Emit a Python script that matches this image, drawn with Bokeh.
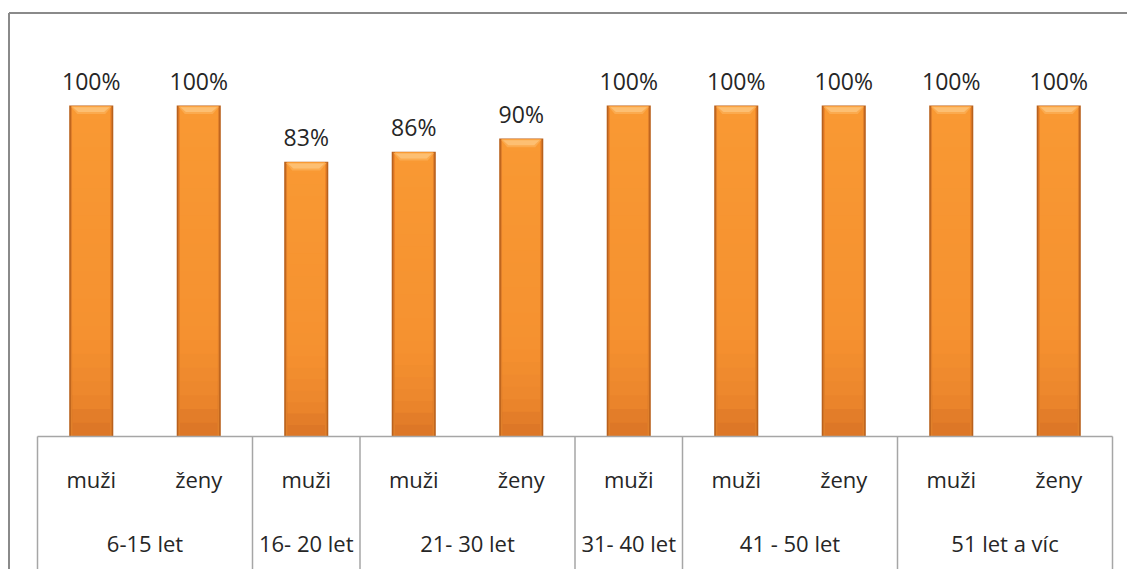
import numpy as np
from bokeh.plotting import figure
from bokeh.models import Range1d, ColumnDataSource
from bokeh.core.properties import value
from bokeh.embed import file_html
from bokeh.resources import INLINE

# ---- data ----
groups = ["6-15 let", "16- 20 let", "21- 30 let", "31- 40 let", "41 - 50 let", "51 let a víc"]
group_sizes = [2, 1, 2, 1, 2, 2]
sub_labels = ["muži", "ženy", "muži", "muži", "ženy", "muži", "muži", "ženy", "muži", "ženy"]
values = [100, 100, 83, 86, 90, 100, 100, 100, 100, 100]
value_labels = ["100%", "100%", "83%", "86%", "90%", "100%", "100%", "100%", "100%", "100%"]

FONT = "Open Sans"
TXT = "#262626"

n = len(values)
xs = np.arange(n) + 0.5
vals = np.array(values, dtype=float)

W, H = 1127, 569
X0, SX = 37, 107.5      # axis start (px) and slot width (px)
Y0, SY = 436, 3.31      # baseline (px) and px per percent

xr = Range1d(-X0 / SX, (W - X0) / SX)
yr = Range1d(-(H - Y0) / SY, Y0 / SY)
p = figure(width=W, height=H, output_backend="svg", toolbar_location=None,
           x_range=xr, y_range=yr,
           x_axis_location=None, y_axis_location=None,
           min_border=0, min_border_left=0, min_border_right=0,
           min_border_top=0, min_border_bottom=0)
p.grid.visible = False
p.outline_line_color = None
p.background_fill_color = "white"
p.border_fill_color = "white"

# chart frame (top & left visible, the rest runs off the page)
fx = (8.5 - X0) / SX
fy = (Y0 - 12.5) / SY
p.segment(x0=[fx, fx], y0=[fy, fy], x1=[xr.end + 1, fx], y1=[fy, yr.start - 5],
          line_color="#8a8a8a", line_width=2)

# bars: dark outer edge, graded inner body, bevelled top
BW = 0.41
p.vbar(x=xs, top=vals, bottom=0, width=BW, fill_color="#B9611D", line_color=None)
inner_w = 0.38
side_w = 0.35
stops = [(0.0, (0xDA, 0x74, 0x26)), (0.12, (0xEC, 0x86, 0x2C)), (0.3, (0xF5, 0x91, 0x30)),
         (1.0, (0xF9, 0x99, 0x33))]
nb = 24
# slightly darker side shading under a brighter centre
p.vbar(x=xs, bottom=0, top=vals - 0.3, width=inner_w, fill_color="#E0802B", line_color=None)
for k in range(nb):
    f = (k + 0.5) / nb
    for (a, ca), (b, cb) in zip(stops[:-1], stops[1:]):
        if a <= f <= b:
            t = (f - a) / (b - a)
            col = [ca[i] + (cb[i] - ca[i]) * t for i in range(3)]
            break
    hexcol = "#%02x%02x%02x" % tuple(int(round(v)) for v in col)
    p.vbar(x=xs, bottom=vals * k / nb, top=vals - 0.3, width=side_w,
           fill_color=hexcol, line_color=None)

# top bevel as trapezoids
bev = 2.6
xsl = [[x - inner_w / 2, x + inner_w / 2, x + inner_w / 2 - 0.06, x - inner_w / 2 + 0.06] for x in xs]
ysl = [[v - 0.3, v - 0.3, v - bev, v - bev] for v in vals]
p.patches(xs=xsl, ys=ysl, fill_color="#FBAA4E", line_color=None)
xsl2 = [[x - inner_w / 2 + 0.02, x + inner_w / 2 - 0.02, x + inner_w / 2 - 0.07, x - inner_w / 2 + 0.07] for x in xs]
ysl2 = [[v - 0.5, v - 0.5, v - bev + 0.6, v - bev + 0.6] for v in vals]
p.patches(xs=xsl2, ys=ysl2, fill_color="#FDBF72", line_color=None)

# value labels
src = ColumnDataSource(dict(x=xs, y=vals, t=value_labels))
p.text(x="x", y="y", text="t", source=src, y_offset=-25, text_align="center",
       text_baseline="middle", text_font=value(FONT), text_font_size="23px", text_color=TXT)

# category axis: baseline, dividers, labels
p.segment(x0=[0], y0=[0], x1=[n], y1=[0], line_color="#A6A6A6", line_width=1.5)
bounds = np.concatenate([[0], np.cumsum(group_sizes)])
p.segment(x0=bounds, y0=np.zeros(len(bounds)), x1=bounds, y1=np.full(len(bounds), -60.0),
          line_color="#A6A6A6", line_width=1.5)
p.text(x=xs, y=np.zeros(n), text=sub_labels, y_offset=42, text_align="center",
       text_baseline="middle", text_font=value(FONT), text_font_size="22px", text_color=TXT)
gx = (bounds[:-1] + bounds[1:]) / 2
p.text(x=gx, y=np.zeros(len(groups)), text=groups, y_offset=106, text_align="center",
       text_baseline="middle", text_font=value(FONT), text_font_size="22px", text_color=TXT)

open("out.html", "w").write(file_html(p, INLINE))
